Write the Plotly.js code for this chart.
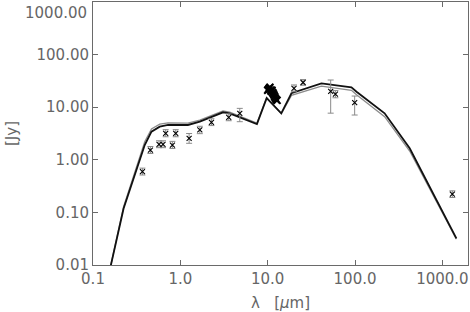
<!DOCTYPE html>
<html>
<head>
<meta charset="utf-8">
<script src="https://cdn.plot.ly/plotly-3.0.1.min.js"></script>
<style>html,body{margin:0;padding:0;background:#fff;}#chart{width:470px;height:312px;}</style>
</head>
<body>
<div id="chart"></div>
<script>
// Model SEDs (wavelength in micron, flux in Jy)
const modelWave  = [0.16, 0.224, 0.391, 0.467, 0.581, 0.723, 1.22, 1.67, 3.08, 3.67, 7.53, 9.73, 14.3, 18.7, 41.2, 90.9, 104, 218, 422, 1445];
const modelBlack = [0.0098, 0.119, 1.91, 3.42, 4.26, 4.59, 4.59, 5.30, 8.0, 7.65, 4.80, 14.8, 7.65, 18.4, 28.4, 23.9, 19.7, 7.65, 1.66, 0.032];
const modelGray  = [0.0100, 0.128, 2.20, 3.85, 4.75, 5.05, 5.0, 5.7, 8.5, 8.1, 5.0, 15.3, 7.5, 16.8, 25.2, 21.0, 17.2, 6.6, 1.47, 0.031];

// Photometry
const photWave     = [0.368, 0.454, 0.570, 0.633, 0.679, 0.811, 0.885, 1.26, 1.67, 2.27, 3.58, 4.79, 20.0, 25.4, 52.6, 59.6, 99, 1300];
const photFlux     = [0.594, 1.53, 1.97, 1.97, 3.19, 1.91, 3.19, 2.56, 3.69, 5.17, 6.43, 7.66, 22.9, 29.5, 19.9, 17.7, 12.2, 0.222];
const photErrPlus  = [0.10, 0.26, 0.33, 0.33, 0.55, 0.33, 0.55, 0.60, 0.65, 0.85, 1.05, 1.84, 3.6, 4.0, 13.0, 3.0, 4.1, 0.035];
const photErrMinus = [0.08, 0.21, 0.27, 0.27, 0.45, 0.27, 0.45, 0.50, 0.55, 0.70, 0.90, 2.36, 3.2, 3.4, 12.2, 2.6, 5.1, 0.03];

// Mid-IR spectrum points
const specWave = [10.0, 10.2, 10.4, 10.6, 10.8, 11.0, 11.2, 11.4, 11.6, 11.8, 12.0, 12.2, 12.5, 12.8];
const specFlux = [21, 22, 23, 24, 21, 20, 21, 19, 18, 17, 16, 15, 14, 13.5];

// Ticks
const xTickVals = [0.1, 1, 10, 100, 1000];
const xTickText = ['0.1', '1.0', '10.0', '100.0', '1000.0'];
const yTickVals = [0.01, 0.1, 1, 10, 100, 1000];
const yTickText = ['0.01', '0.10', '1.00', '10.00', '100.00', ''];
const yTopLabel = '1000.00';

const txtColor = '#666666';
const fnt = {family: 'DejaVu Sans, sans-serif', size: 15, color: txtColor};

const traces = [
  {x: modelWave, y: modelGray, type: 'scatter', mode: 'lines', line: {color: '#8c8c8c', width: 1.3}, hoverinfo: 'skip'},
  {x: modelWave, y: modelBlack, type: 'scatter', mode: 'lines', line: {color: '#111', width: 1.8}, hoverinfo: 'skip'},
  {x: specWave, y: specFlux, type: 'scatter', mode: 'markers',
   marker: {symbol: 'x-thin-open', size: 7, color: '#000', line: {color: '#000', width: 2}}},
  {x: photWave, y: photFlux, type: 'scatter', mode: 'markers',
   marker: {symbol: 'x-thin-open', size: 5, color: '#000', line: {color: '#000', width: 1.1}},
   error_y: {type: 'data', symmetric: false, array: photErrPlus, arrayminus: photErrMinus,
             color: '#8a8a8a', thickness: 1, width: 3}}
];

const axisCommon = {
  type: 'log', showgrid: false, zeroline: false,
  showline: true, linecolor: '#6a6a6a', linewidth: 1, mirror: 'ticks',
  ticks: 'inside', ticklen: 5, tickcolor: '#6a6a6a', tickwidth: 1,
  tickfont: fnt, tickmode: 'array'
};

const layout = {
  width: 470, height: 312,
  margin: {l: 93, r: 2, t: 2, b: 47},
  paper_bgcolor: '#fff', plot_bgcolor: '#fff',
  showlegend: false,
  xaxis: Object.assign({}, axisCommon, {
    range: [-1, 3.293], tickvals: xTickVals, ticktext: xTickText,
    title: {text: 'λ   [<i>μ</i>m]', font: fnt, standoff: 10}
  }),
  yaxis: Object.assign({}, axisCommon, {
    range: [-2, 3], tickvals: yTickVals, ticktext: yTickText,
    title: {text: '[Jy]', font: fnt, standoff: 15}
  }),
  annotations: [
    {x: -0.012, y: 3, xref: 'paper', yref: 'y', text: yTopLabel, showarrow: false,
     xanchor: 'right', yanchor: 'top', font: fnt, yshift: 0}
  ]
};

Plotly.newPlot('chart', traces, layout, {displayModeBar: false, staticPlot: true});
</script>
</body>
</html>
